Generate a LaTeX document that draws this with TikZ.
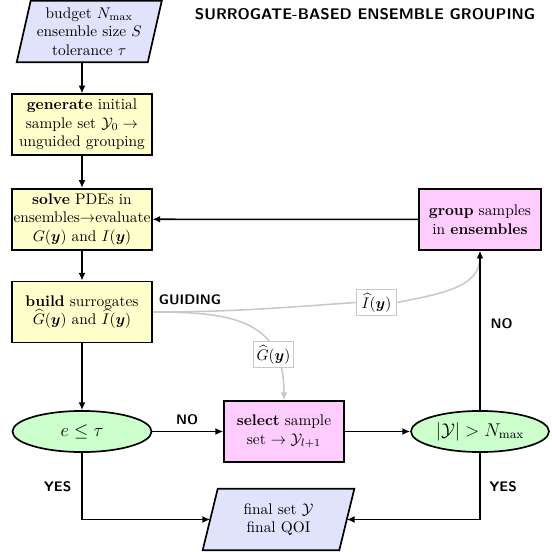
\documentclass[tikz,border=0pt]{standalone}
\usepackage{amsmath,amssymb,bm}
\usetikzlibrary{arrows.meta,shapes.geometric,backgrounds}
\definecolor{inblue}{RGB}{225,226,252}
\definecolor{boxyel}{RGB}{255,255,204}
\definecolor{boxpink}{RGB}{255,204,255}
\definecolor{boxgreen}{RGB}{204,255,204}
\definecolor{guidegray}{RGB}{200,200,200}
\tikzset{
  iobox/.style={draw=none,minimum height=39.6pt,inner sep=0pt,align=center},
  yelbox/.style={draw,line width=1.1pt,fill=boxyel,minimum width=90.6pt,minimum height=39.6pt,inner sep=0pt,align=center},
  pinkbox/.style={draw,line width=1.1pt,fill=boxpink,minimum height=39.6pt,inner sep=0pt,align=center},
  decell/.style={ellipse,draw,line width=1.1pt,fill=boxgreen,minimum height=26.7pt,inner sep=0pt,font=\large},
  flow/.style={line width=1pt,-{Latex[length=5pt,width=4.5pt]}},
  guide/.style={line width=1pt,draw=guidegray,-{Latex[length=5pt,width=4.5pt]}},
  glabel/.style={draw=guidegray,line width=1pt,fill=white,minimum width=26pt,minimum height=17pt,inner sep=1pt},
  tag/.style={font=\sffamily\bfseries\small},
}
\begin{document}
\begin{tikzpicture}[x=0.65pt,y=0.65pt]
\useasboundingbox (0,0) rectangle (552,552);
% nodes
\node[font=\sffamily\bfseries] (title) at (365,538) {SURROGATE-BASED ENSEMBLE GROUPING};
\node[iobox,minimum width=84.8pt] (input) at (89.25,520.5) {budget $N_{\max}$\\ensemble size $S$\\tolerance $\tau$};
\node[yelbox] (gen) at (82,427.3) {\textbf{generate} initial\\sample set $\mathcal{Y}_0\rightarrow$\\unguided grouping};
\node[yelbox] (solve) at (82,332.8) {\textbf{solve} PDEs in\\ensembles$\rightarrow$evaluate\\$G(\bm{y})$ and $I(\bm{y})$};
\node[yelbox] (build) at (82,240) {\textbf{build} surrogates\\$\widehat{G}(\bm{y})$ and $\widehat{I}(\bm{y})$};
\node[decell,minimum width=90.4pt] (e) at (82,120.5) {$e\le\tau$};
\node[pinkbox,minimum width=78pt] (select) at (284,120.5) {\textbf{select} sample\\set $\rightarrow\mathcal{Y}_{l+1}$};
\node[decell,minimum width=89.7pt] (e2) at (480,120.5) {$|\mathcal{Y}|>N_{\max}$};
\node[pinkbox,minimum width=79.3pt] (group) at (480,332.5) {\textbf{group} samples\\in \textbf{ensembles}};
\node[iobox,minimum width=88.4pt] (final) at (278.5,32.5) {final set $\mathcal{Y}$\\final QOI};
\node[glabel] (Ihat) at (376.5,249.5) {$\widehat{I}(\bm{y})$};
\node[glabel] (Ghat) at (273.5,197.5) {$\widehat{G}(\bm{y})$};
\node[tag] (guiding) at (190,252) {GUIDING};
\node[tag] (no1) at (187,132) {NO};
\node[tag] (no2) at (501.5,228) {NO};
\node[tag] (yes1) at (57.5,65.5) {YES};
\node[tag] (yes2) at (503,65.5) {YES};
% parallelograms and guiding curves behind the nodes
\begin{scope}[on background layer]
\filldraw[fill=inblue,line width=1.1pt,line join=miter]
  ([xshift=-4.55pt]input.south west) -- ([xshift=-4.55pt]input.south east)
  -- ([xshift=4.55pt]input.north east) -- ([xshift=4.55pt]input.north west) -- cycle;
\filldraw[fill=inblue,line width=1.1pt,line join=miter]
  ([xshift=-4.9pt]final.south west) -- ([xshift=-4.9pt]final.south east)
  -- ([xshift=4.9pt]final.north east) -- ([xshift=4.9pt]final.north west) -- cycle;
\draw[guide,-] (build.east) to[out=0,in=184] (Ihat.west);
\draw[guide] (Ihat.east) to[out=12,in=-90] (group.south);
\draw[guide] (build.east) to[out=0,in=90,looseness=1.3] (select.north);
\end{scope}
% flow
\draw[flow] (gen.north |- input.south) -- (gen.north);
\draw[flow] (gen) -- (solve);
\draw[flow] (solve) -- (build);
\draw[flow] (build) -- (e);
\draw[flow] (e) -- (select);
\draw[flow] (select) -- (e2);
\draw[flow] (e2) -- (group);
\draw[flow] (group) -- (solve);
\draw[flow] (e.south) |- (final.west);
\draw[flow] (e2.south) |- (final.east);
\end{tikzpicture}
\end{document}
